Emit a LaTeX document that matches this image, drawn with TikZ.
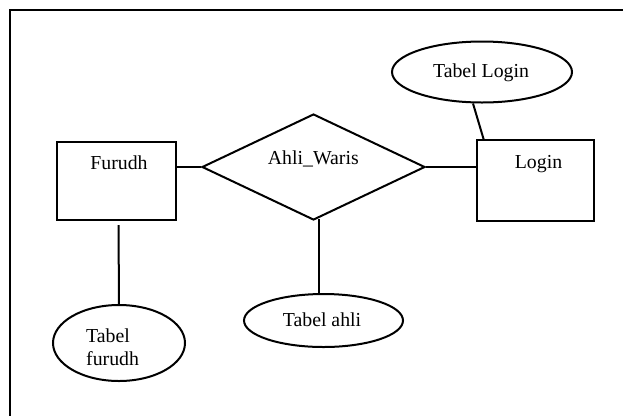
\documentclass[tikz,border=0pt]{standalone}
\usepackage{fontspec}
\setmainfont{Liberation Serif}
\usetikzlibrary{shapes.geometric}
\tikzset{
  line/.style={line width=2pt},
  entity/.style={draw, line width=2pt, rectangle, inner sep=0pt},
  relation/.style={draw, line width=2pt, diamond, inner sep=0pt},
  attrib/.style={draw, line width=2pt, ellipse, inner sep=0pt},
  lbl/.style={inner sep=0pt, font=\fontsize{19.8}{23}\selectfont},
}
\begin{document}
\begin{tikzpicture}[x=1pt,y=-1pt]
\useasboundingbox (0,0) rectangle (623,416);
% frame
\coordinate (fTR) at (623,10);
\coordinate (fTL) at (10,10);
\coordinate (fBL) at (10,416);
\draw[line] (fTR) -- (fTL) -- (fBL);
% shapes
\node[entity, minimum width=119pt, minimum height=78pt] (furudh) at (116.5,181) {};
\node[relation, minimum width=223pt, minimum height=106pt] (rel) at (313.5,167) {};
\node[entity, minimum width=117pt, minimum height=81pt] (login) at (535.5,180.5) {};
\node[attrib, minimum width=180pt, minimum height=61pt] (tlogin) at (482,72) {};
\node[attrib, minimum width=159pt, minimum height=53pt] (tahli) at (323.5,320.5) {};
\node[attrib, minimum width=132pt, minimum height=76pt] (tfurudh) at (119,343) {};
% labels
\node[lbl, anchor=base] (furudhT) at (119,169.5) {Furudh};
\node[lbl, anchor=base] (relT) at (313.3,164.3) {Ahli\_Waris};
\node[lbl, anchor=base] (loginT) at (538.5,168.3) {Login};
\node[lbl, anchor=base] (tloginT) at (481,77) {Tabel Login};
\node[lbl, anchor=base] (tahliT) at (322,326.7) {Tabel ahli};
\node[lbl, anchor=base west] (tfurudhT1) at (86,342) {Tabel};
\node[lbl, anchor=base west] (tfurudhT2) at (86,365) {furudh};
% connectors
\draw[line] (rel.west) -- (rel.west -| furudh.east);
\draw[line] (rel.east) -- (rel.east -| login.west);
\draw[line] ([xshift=5pt,yshift=2.5pt]rel.south) -- ([xshift=5pt,yshift=-1pt]rel.south |- tahli.north);
\draw[line] ([xshift=2pt,yshift=-4pt]furudh.south) -- ([yshift=-0.5pt]tfurudh.north);
\draw[line] ([xshift=-9pt]tlogin.south) -- ([xshift=8pt,yshift=-1.5pt]login.north west);
\end{tikzpicture}
\end{document}
